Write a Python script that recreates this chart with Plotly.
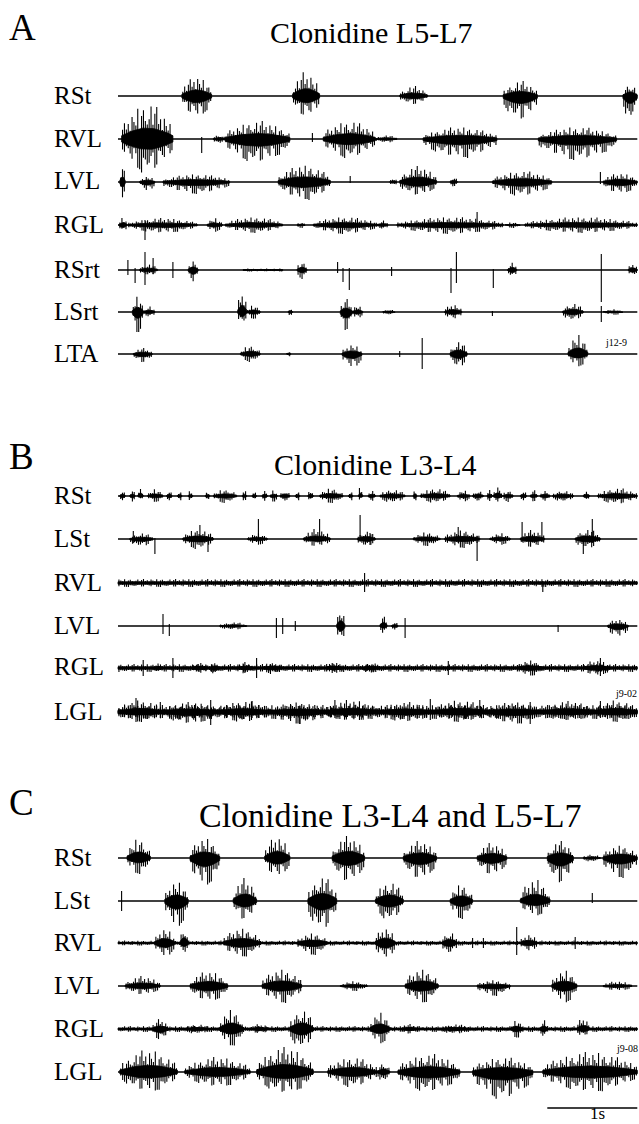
import plotly.graph_objects as go

# ---------------- DATA (time in s, amplitude in display units) ----------------
# bursts: (onset s, offset s, peak up, peak down); spikes: (time s, up, down); bands: (start, end, half-height)
A_names = ["RSt", "RVL", "LVL", "RGL", "RSrt", "LSrt", "LTA"]
B_names = ["RSt", "LSt", "RVL", "LVL", "RGL", "LGL"]
C_names = ["RSt", "LSt", "RVL", "LVL", "RGL", "LGL"]

A_RSt_bursts = [(0.71, 1.04, 20, 22), (1.94, 2.24, 24, 22), (3.13, 3.44, 10, 9), (4.28, 4.66, 15, 25), (5.61, 5.77, 13, 25)]
A_RVL_bursts = [(0.04, 0.61, 36, 34), (1.06, 1.19, 5, 5), (1.19, 1.91, 18, 24), (2.28, 2.86, 18, 19), (2.86, 3.10, 4, 4),
                (3.39, 4.21, 12, 19), (4.67, 5.54, 12, 21)]
A_RVL_spikes = [(0.93, 2, 14), (2.16, 6, 3)]
A_LVL_bursts = [(0.02, 0.08, 17, 17), (0.24, 0.41, 6, 10), (0.50, 1.24, 8, 12), (1.78, 2.36, 17, 18), (3.02, 3.10, 4, 4),
                (3.13, 3.54, 16, 14), (3.69, 3.77, 6, 6), (4.16, 4.82, 11, 14), (5.39, 5.77, 9, 12)]
A_LVL_spikes = [(2.58, 6, 1), (5.36, 10, 2)]
A_RGL_bursts = [(0.01, 0.10, 8, 8), (0.11, 0.88, 7, 8), (0.99, 1.16, 7, 7), (1.19, 1.83, 8, 8), (1.99, 2.08, 3, 3),
                (2.17, 2.88, 8, 9), (2.88, 3.00, 5, 5), (3.10, 4.28, 8, 9), (4.30, 4.47, 3, 3), (4.52, 5.77, 8, 8)]
A_RGL_spikes = [(0.30, 5, 15), (3.99, 13, 3)]
A_RSrt_bursts = [(0.24, 0.44, 6, 6), (0.78, 0.89, 10, 14), (1.99, 2.10, 9, 9), (4.33, 4.43, 8, 8), (5.67, 5.77, 7, 7)]
A_RSrt_bands = [(1.39, 1.83, 1.5)]
A_RSrt_spikes = [(0.11, 10, 5), (0.19, 2, 13), (0.30, 18, 15), (0.39, 12, 4), (0.61, 8, 8), (2.44, 8, 3), (2.50, 2, 12),
                 (2.57, 2, 20), (3.04, 3, 6), (3.70, 2, 23), (3.76, 18, 13), (4.17, 1, 18), (5.37, 16, 32)]
A_LSrt_bursts = [(0.16, 0.28, 16, 21), (0.28, 0.41, 6, 6), (1.33, 1.43, 22, 15), (1.43, 1.58, 7, 7), (1.89, 1.94, 5, 5),
                 (2.47, 2.60, 13, 20), (2.60, 2.72, 7, 7), (2.94, 3.08, 3, 3), (3.63, 3.82, 8, 8), (4.94, 5.17, 9, 9),
                 (5.39, 5.61, 3, 3)]
A_LSrt_spikes = [(4.16, 1, 4), (5.37, 6, 10)]
A_LTA_bursts = [(0.17, 0.38, 6, 9), (1.36, 1.58, 9, 8), (1.87, 1.92, 3, 3), (2.49, 2.71, 10, 15), (3.69, 3.88, 13, 15),
                (5.00, 5.22, 20, 13)]
A_LTA_spikes = [(3.13, 3, 3), (3.38, 16, 15)]

B_RSt_bursts = [(0.02, 0.08, 6, 6), (0.13, 0.19, 6, 6), (0.22, 0.28, 10, 5), (0.33, 0.50, 7, 6), (0.54, 0.60, 6, 6),
                (0.66, 0.71, 6, 6), (0.78, 0.83, 6, 6), (0.97, 1.02, 6, 6), (1.06, 1.32, 7, 7), (1.38, 1.43, 6, 6),
                (1.49, 1.54, 6, 6), (1.60, 1.66, 6, 6), (1.69, 1.77, 6, 6), (1.80, 1.91, 6, 6), (1.97, 2.02, 6, 6),
                (2.11, 2.17, 6, 6), (2.24, 2.50, 8, 7), (2.56, 2.61, 6, 6), (2.67, 2.72, 10, 5), (2.78, 2.86, 6, 6),
                (2.91, 3.19, 7, 7), (3.28, 3.32, 8, 8), (3.36, 3.69, 8, 7), (3.77, 3.91, 6, 6), (3.94, 4.06, 6, 6),
                (4.10, 4.16, 6, 6), (4.17, 4.27, 10, 7), (4.28, 4.39, 6, 6), (4.47, 4.54, 6, 6), (4.58, 4.66, 6, 6),
                (4.69, 4.80, 6, 6), (4.83, 5.06, 6, 6), (5.17, 5.24, 6, 6), (5.33, 5.77, 8, 8)]
B_LSt_bursts = [(0.13, 0.39, 6, 8), (0.72, 1.06, 10, 10), (1.44, 1.66, 6, 6), (2.06, 2.36, 10, 8), (2.66, 2.86, 8, 8),
                (3.28, 3.58, 7, 7), (3.63, 4.02, 9, 9), (4.13, 4.36, 6, 6), (4.47, 4.74, 9, 9), (5.08, 5.36, 10, 10)]
B_LSt_spikes = [(0.17, 8, 4), (0.41, 1, 15), (0.91, 14, 3), (1.00, 2, 13), (1.56, 20, 2), (2.24, 20, 3), (2.69, 24, 2),
                (2.80, 6, 6), (3.78, 12, 4), (3.99, 3, 22), (4.49, 17, 3), (4.71, 17, 3), (5.17, 3, 15), (5.27, 20, 4)]
B_RVL_bands = [(0.0, 5.77, 4)]
B_RVL_spikes = [(2.74, 10, 9), (4.72, 2, 9)]
B_LVL_bursts = [(1.13, 1.43, 4, 4), (2.43, 2.52, 18, 18), (2.91, 2.99, 12, 7), (3.04, 3.11, 5, 5), (5.44, 5.67, 7, 12)]
B_LVL_spikes = [(0.50, 12, 8), (0.57, 2, 10), (1.76, 8, 12), (1.83, 8, 8), (1.97, 5, 5), (3.19, 8, 12), (4.89, 1, 6)]
B_RGL_bands = [(0.0, 5.77, 4)]
B_RGL_bursts = [(0.39, 0.50, 5, 5), (0.83, 0.99, 6, 6), (1.02, 1.13, 6, 6), (1.32, 1.50, 6, 6), (1.60, 1.83, 6, 6),
                (2.32, 2.50, 6, 6), (2.72, 2.91, 6, 6), (4.43, 4.72, 8, 8), (5.17, 5.47, 8, 8)]
B_RGL_spikes = [(0.28, 8, 8), (0.61, 10, 10), (1.54, 10, 10), (2.38, 5, 5), (3.67, 7, 7), (5.36, 10, 8)]
B_LGL_bands = [(0.0, 5.77, 7)]
B_LGL_bursts = [(0.00, 0.50, 12, 10), (0.50, 1.10, 10, 12), (1.10, 1.70, 11, 10), (1.70, 2.30, 10, 12), (2.30, 2.90, 12, 9),
                (2.90, 3.50, 10, 10), (3.50, 4.10, 12, 10), (4.10, 4.70, 10, 12), (4.70, 5.30, 11, 9), (5.30, 5.77, 12, 10)]
B_LGL_spikes = [(0.20, 14, 10), (0.47, 10, 6), (1.03, 12, 13), (1.49, 11, 6), (2.02, 6, 12), (2.41, 12, 6),
                (3.47, 13, 8), (4.02, 12, 6), (4.58, 10, 12), (5.36, 11, 6)]

C_RSt_bursts = [(0.10, 0.36, 20, 16), (0.80, 1.13, 20, 28), (1.63, 1.91, 22, 20), (2.38, 2.74, 22, 25), (3.17, 3.54, 17, 22),
                (3.99, 4.32, 15, 18), (4.77, 5.06, 17, 27), (5.17, 5.36, 4, 4), (5.39, 5.77, 13, 20)]
C_LSt_bursts = [(0.52, 0.78, 20, 27), (1.28, 1.54, 23, 20), (2.11, 2.43, 25, 30), (2.86, 3.17, 20, 20), (3.69, 3.94, 17, 18),
                (4.47, 4.80, 22, 15)]
C_LSt_spikes = [(0.04, 10, 10), (5.27, 8, 2)]
C_RVL_bands = [(0.0, 5.77, 2.5)]
C_RVL_bursts = [(0.41, 0.63, 15, 15), (0.69, 0.78, 18, 12), (1.17, 1.58, 15, 14), (1.99, 2.33, 10, 12), (2.86, 3.08, 16, 17),
                (3.60, 3.77, 12, 12), (4.47, 4.66, 9, 9)]
C_RVL_spikes = [(3.94, 5, 5), (4.06, 5, 5), (4.43, 16, 12), (5.08, 6, 6)]
C_LVL_bursts = [(0.08, 0.47, 10, 9), (0.80, 1.22, 15, 16), (1.60, 2.04, 17, 17), (2.47, 2.77, 5, 5), (3.19, 3.56, 17, 17),
                (3.99, 4.36, 6, 10), (4.82, 5.10, 16, 17), (5.39, 5.71, 5, 5)]
C_RGL_bands = [(0.0, 5.77, 3)]
C_RGL_bursts = [(0.38, 0.56, 10, 12), (0.74, 1.02, 5, 5), (1.13, 1.39, 20, 17), (1.47, 1.69, 5, 5), (1.91, 2.17, 20, 20),
                (2.80, 3.02, 17, 15), (3.13, 3.36, 5, 5), (3.58, 3.91, 5, 5), (4.36, 4.50, 9, 9), (4.69, 4.77, 10, 10),
                (5.10, 5.24, 12, 9)]
C_LGL_bursts = [(0.02, 0.66, 22, 20), (0.74, 1.47, 15, 15), (1.54, 2.17, 25, 22), (2.33, 2.88, 15, 15), (2.88, 3.02, 10, 10),
                (3.11, 3.80, 18, 20), (3.94, 4.61, 15, 27), (4.72, 5.77, 20, 20)]

TRACE_START = 0.0
TRACE_END = 5.77
SCALE_START = 4.77
SCALE_LEN = 1.0

# ---------------- LAYOUT / STYLE ----------------
W, H = 639, 1124
PX_PER_S = 90.0
X0_PX = 118.0
A_rows = [96, 139, 182, 225, 270, 312, 354]
B_rows = [496, 539, 583, 626, 668, 712]
C_rows = [858, 901, 943, 986, 1029, 1072]

# drawing style of an EMG burst: core + dense vertical strokes following a fixed stroke pattern
CORE = 0.3
STROKE_DT = 0.021
PAT_UP = [0.55, 0.9, 0.4, 0.75, 1.0, 0.5, 0.7, 0.35, 0.85, 0.6, 0.45, 0.95, 0.3, 0.65, 0.8, 0.5, 0.4]
PAT_DN = [0.7, 0.45, 0.95, 0.5, 0.65, 1.0, 0.4, 0.8, 0.55, 0.9, 0.35, 0.6, 0.85, 0.5, 0.75, 0.4, 0.95]
TAPER_F = [0.0, 0.1, 0.25, 0.4, 0.6, 0.75, 0.9, 1.0]
TAPER_V = [0.3, 0.55, 0.8, 1.0, 1.0, 0.8, 0.55, 0.3]


def taper(f):
    for i in range(len(TAPER_F) - 1):
        if TAPER_F[i] <= f <= TAPER_F[i + 1]:
            w = (f - TAPER_F[i]) / (TAPER_F[i + 1] - TAPER_F[i])
            return TAPER_V[i] * (1 - w) + TAPER_V[i + 1] * w
    return TAPER_V[-1]


FONT = "Liberation Serif"
fig = go.Figure()
k_counter = [0]


def activity(t0, t1, up, dn, base, flat, polys, strokes):
    d = t1 - t0
    n = max(2, int(round(d / STROKE_DT)))
    core_x, core_u, core_d = [], [], []
    for i in range(n + 1):
        f = i / n
        tp = 1.0 if flat else taper(f)
        core_x.append(t0 + f * d)
        core_u.append(base - up * CORE * tp)
        core_d.append(base + dn * CORE * tp)
    polys[0] += core_x + core_x[::-1] + [core_x[0], None]
    polys[1] += core_u + core_d[::-1] + [core_u[0], None]
    for i in range(n):
        f = (i + 0.5) / n
        tp = 1.0 if flat else taper(f)
        k = k_counter[0]
        k_counter[0] += 1
        x = t0 + f * d
        strokes[0] += [x, x, None]
        strokes[1] += [base - up * tp * PAT_UP[k % len(PAT_UP)], base + dn * tp * PAT_DN[(k * 3) % len(PAT_DN)], None]


def add_channel(base, bursts=(), spikes=(), bands=()):
    fig.add_trace(go.Scatter(x=[TRACE_START, TRACE_END], y=[base, base], mode="lines",
                             line=dict(color="black", width=1.4), hoverinfo="skip", showlegend=False))
    polys = [[], []]
    strokes = [[], []]
    for t0, t1, a in bands:
        activity(t0, t1, a, a, base, True, polys, strokes)
    for t0, t1, up, dn in bursts:
        activity(t0, t1, up, dn, base, False, polys, strokes)
    for t, up, dn in spikes:
        strokes[0] += [t, t, None]
        strokes[1] += [base - up, base + dn, None]
    if polys[0]:
        fig.add_trace(go.Scatter(x=polys[0], y=polys[1], mode="lines", fill="toself", fillcolor="black",
                                 line=dict(color="black", width=0.8), hoverinfo="skip", showlegend=False))
    if strokes[0]:
        fig.add_trace(go.Scatter(x=strokes[0], y=strokes[1], mode="lines", line=dict(color="black", width=1.1),
                                 hoverinfo="skip", showlegend=False))


panel_A = [(A_RSt_bursts, [], []), (A_RVL_bursts, A_RVL_spikes, []), (A_LVL_bursts, A_LVL_spikes, []),
           (A_RGL_bursts, A_RGL_spikes, []), (A_RSrt_bursts, A_RSrt_spikes, A_RSrt_bands),
           (A_LSrt_bursts, A_LSrt_spikes, []), (A_LTA_bursts, A_LTA_spikes, [])]
panel_B = [(B_RSt_bursts, [], []), (B_LSt_bursts, B_LSt_spikes, []), ([], B_RVL_spikes, B_RVL_bands),
           (B_LVL_bursts, B_LVL_spikes, []), (B_RGL_bursts, B_RGL_spikes, B_RGL_bands),
           (B_LGL_bursts, B_LGL_spikes, B_LGL_bands)]
panel_C = [(C_RSt_bursts, [], []), (C_LSt_bursts, C_LSt_spikes, []), (C_RVL_bursts, C_RVL_spikes, C_RVL_bands),
           (C_LVL_bursts, [], []), (C_RGL_bursts, [], C_RGL_bands), (C_LGL_bursts, [], [])]

for rows, panel in [(A_rows, panel_A), (B_rows, panel_B), (C_rows, panel_C)]:
    for base, (bu, sp, bd) in zip(rows, panel):
        add_channel(base, bu, sp, bd)

SCALE_Y = 1108
fig.add_trace(go.Scatter(x=[SCALE_START, SCALE_START + SCALE_LEN], y=[SCALE_Y, SCALE_Y], mode="lines",
                         line=dict(color="black", width=1.6), hoverinfo="skip", showlegend=False))

annotations = []


def ann(text, px, py, size, xanchor="left"):
    annotations.append(dict(text=text, x=px / W, y=1 - py / H, xref="paper", yref="paper",
                            xanchor=xanchor, yanchor="middle", showarrow=False,
                            font=dict(family=FONT, size=size, color="black")))


ann("A", 7, 27, 37)
ann("B", 7, 457, 37)
ann("C", 7, 802, 37)
ann("Clonidine L5-L7", 371, 32, 30, "center")
ann("Clonidine L3-L4", 375, 465, 30, "center")
ann("Clonidine L3-L4 and L5-L7", 390, 815, 34, "center")
for names, rows in [(A_names, A_rows), (B_names, B_rows), (C_names, C_rows)]:
    for n, r in zip(names, rows):
        ann(n, 52, r - 1, 25)
ann("j12-9", 616, 342, 10, "center")
ann("j9-02", 626, 693, 10, "center")
ann("j9-08", 627, 1048, 10, "center")
ann("1s", 597, 1113, 17, "center")

fig.update_layout(
    width=W, height=H, margin=dict(l=0, r=0, t=0, b=0),
    paper_bgcolor="white", plot_bgcolor="white", showlegend=False,
    xaxis=dict(range=[-X0_PX / PX_PER_S, (W - X0_PX) / PX_PER_S], visible=False, fixedrange=True),
    yaxis=dict(range=[H, 0], visible=False, fixedrange=True),
    annotations=annotations,
)
fig.write_html("out.html")
